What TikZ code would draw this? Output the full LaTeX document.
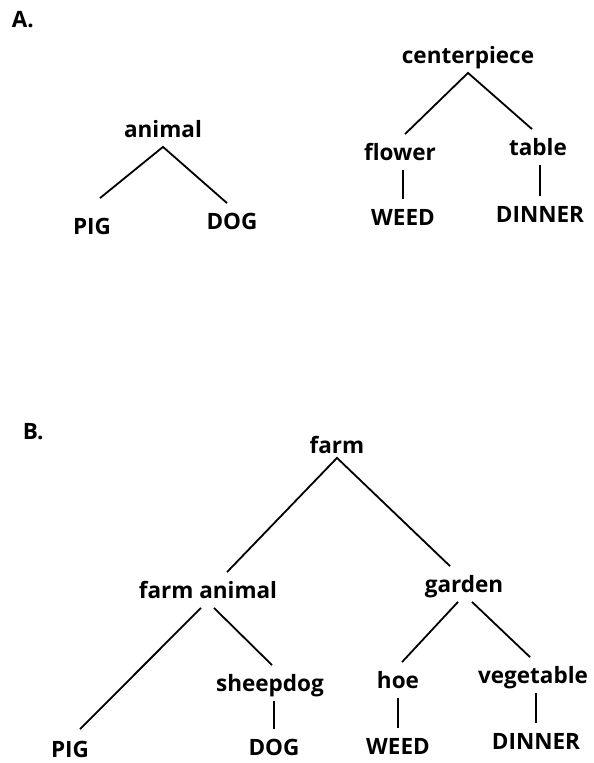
\documentclass[tikz,border=0pt]{standalone}
\usepackage{fontspec}
\setmainfont{Open Sans}
\usepackage{tikz}

\begin{document}
\begin{tikzpicture}[x=1pt,y=-1pt,line width=1.8pt,
  word/.style={font=\bfseries\fontsize{22.5}{26}\selectfont,anchor=base,
    text height=16pt,text depth=0pt,inner xsep=0pt,inner ysep=9pt}]
  \useasboundingbox (0,0) rectangle (594,763);
  % A.
  \node[word,anchor=base west] (labA) at (11,27) {A.};
  \node[word] (animal) at (163,137) {animal};
  \node[word] (pigA) at (92,234) {PIG};
  \node[word] (dogA) at (232,229) {DOG};
  \node[word] (centerpiece) at (468,63) {centerpiece};
  \node[word] (flower) at (400,160) {flower};
  \node[word] (table) at (538,155) {table};
  \node[word] (weedA) at (403,225) {WEED};
  \node[word] (dinnerA) at (540,222) {DINNER};
  \draw
    ([xshift=8pt,yshift=10pt]pigA.north)
    --
    (animal.south)
    --
    ([xshift=-5pt]dogA.north);
  \draw
    ([xshift=5pt]flower.north)
    --
    (centerpiece.south)
    --
    ([xshift=-6pt]table.north);
  \draw
    (weedA.north)
    --
    (weedA.north |- flower.south);
  \draw
    (dinnerA.north)
    --
    (dinnerA.north |- table.south);
  % B.
  \node[word,anchor=base west] (labB) at (22,439) {B.};
  \node[word,inner ysep=4pt] (farm) at (337,453) {farm};
  \node[word] (fanimal) at (208,598) {farm animal};
  \node[word] (garden) at (464,592) {garden};
  \node[word] (sheepdog) at (270,691) {sheepdog};
  \node[word] (hoe) at (398,688) {hoe};
  \node[word] (vegetable) at (533,683) {vegetable};
  \node[word] (pigB) at (70,757) {PIG};
  \node[word] (dogB) at (274,755) {DOG};
  \node[word] (weedB) at (398,754) {WEED};
  \node[word] (dinnerB) at (536,749) {DINNER};
  \draw
    ([xshift=19pt]fanimal.north)
    --
    (farm.south)
    --
    ([xshift=-14pt]garden.north);
  \draw
    ([xshift=-7pt]fanimal.south)
    --
    ([xshift=10pt,yshift=2pt]pigB.north);
  \draw
    ([xshift=6pt]fanimal.south)
    --
    ([xshift=2pt]sheepdog.north);
  \draw
    ([xshift=-6pt]garden.south)
    --
    ([xshift=4pt]hoe.north);
  \draw
    ([xshift=8pt]garden.south)
    --
    ([xshift=-3pt]vegetable.north);
  \draw
    (dogB.north)
    --
    (dogB.north |- sheepdog.south);
  \draw
    (weedB.north)
    --
    (weedB.north |- hoe.south);
  \draw
    (dinnerB.north)
    --
    (dinnerB.north |- vegetable.south);
\end{tikzpicture}
\end{document}
